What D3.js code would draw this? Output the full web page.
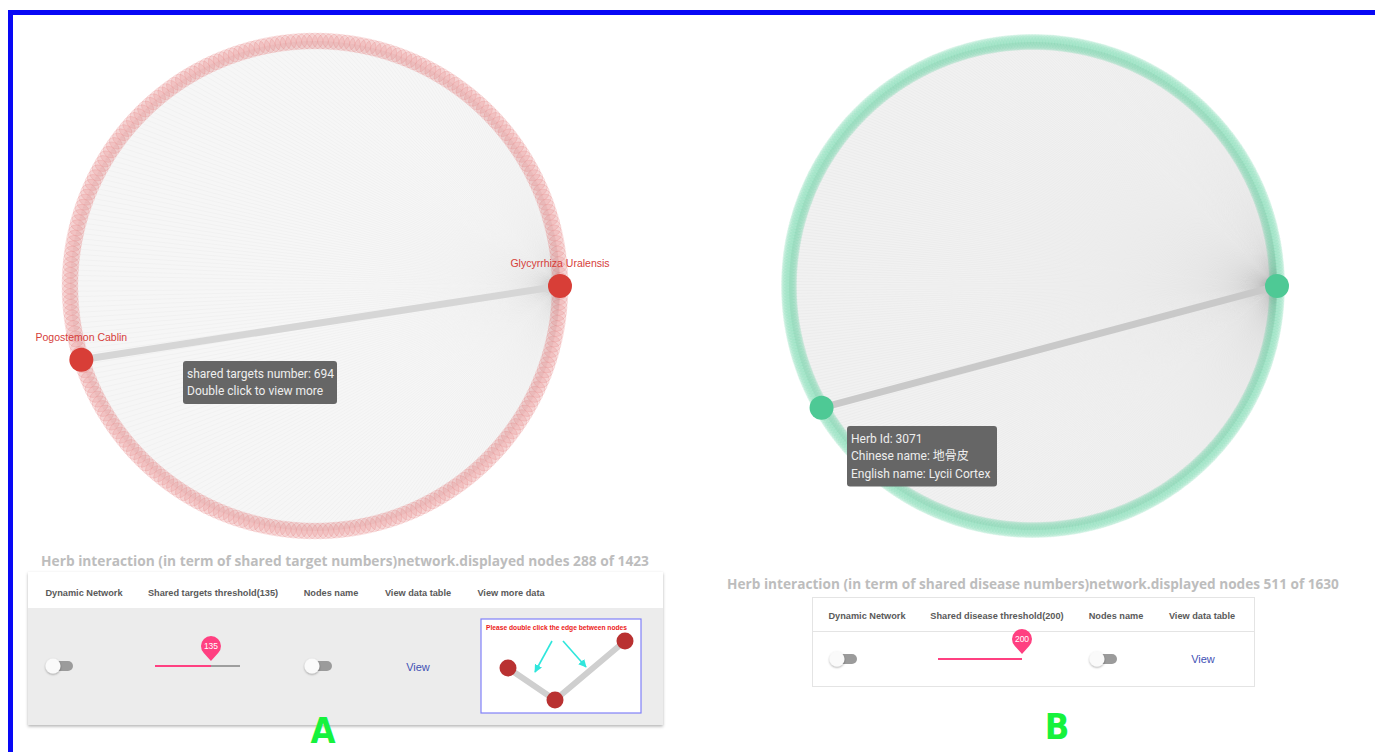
<!DOCTYPE html>
<html>
<head>
<meta charset="utf-8">
<script src="https://cdn.jsdelivr.net/npm/d3@7"></script>
<style>
  body { margin: 0; background: #fff; }
  svg { display: block; font-family: "Liberation Sans", Arial, sans-serif; }
</style>
</head>
<body>
<div class="chart"></div>
<script>
// ---- data ----
var displayedNodes = [288, 511];
var totalNodes = [1423, 1630];
var thresholdValues = [135, 200];
var thresholdMax = [205, 200];
var hubIndex = [0, 0];
var highlightPairA = [0, 130];
var highlightPairB = [0, 213];
var highlightNamesA = ["Glycyrrhiza Uralensis", "Pogostemon Cablin"];
var sharedTargetsNumber = 694;
var tooltipLinesA = ["shared targets number: " + sharedTargetsNumber, "Double click to view more"];
var tooltipLinesB = ["Herb Id: 3071", "Chinese name: 地骨皮", "English name: Lycii Cortex"];
var titleA = "Herb interaction (in term of shared target numbers)network.displayed nodes " + displayedNodes[0] + " of " + totalNodes[0];
var titleB = "Herb interaction (in term of shared disease numbers)network.displayed nodes " + displayedNodes[1] + " of " + totalNodes[1];
var headersA = ["Dynamic Network", "Shared targets threshold(" + thresholdValues[0] + ")", "Nodes name", "View data table", "View more data"];
var headersB = ["Dynamic Network", "Shared disease threshold(" + thresholdValues[1] + ")", "Nodes name", "View data table"];
var panelLabels = ["A", "B"];

var svgWidth = 1375;
var svgHeight = 752;

var svg = d3.select(".chart")
  .append("svg")
  .attr("width", svgWidth)
  .attr("height", svgHeight);

var defs = svg.append("defs");
var shadow = defs.append("filter").attr("id", "shadow")
  .attr("x", "-10%").attr("y", "-10%").attr("width", "120%").attr("height", "130%");
shadow.append("feDropShadow").attr("dx", 0).attr("dy", 1.5).attr("stdDeviation", 1.5)
  .attr("flood-color", "#000").attr("flood-opacity", 0.3);
var knobShadow = defs.append("filter").attr("id", "knobShadow")
  .attr("x", "-50%").attr("y", "-50%").attr("width", "200%").attr("height", "200%");
knobShadow.append("feDropShadow").attr("dx", 0).attr("dy", 1).attr("stdDeviation", 1)
  .attr("flood-color", "#000").attr("flood-opacity", 0.35);
defs.append("marker").attr("id", "cyanArrow")
  .attr("viewBox", "0 0 10 10").attr("refX", 9).attr("refY", 5)
  .attr("markerWidth", 5).attr("markerHeight", 5).attr("orient", "auto")
  .append("path").attr("d", "M0,0 L10,5 L0,10 z").attr("fill", "#2fe6dc");

// blue frame
svg.append("rect")
  .attr("x", 10.5).attr("y", 12.5)
  .attr("width", svgWidth + 20).attr("height", svgHeight + 20)
  .attr("fill", "none").attr("stroke", "#0808f5").attr("stroke-width", 5);

// ---- circular network ----
function drawNetwork(g, cfg) {
  var angle = d3.scaleLinear().domain([0, cfg.n]).range([0, 2 * Math.PI]);
  var nodes = d3.range(cfg.n).map(function(i) {
    return { i: i, x: cfg.cx + cfg.r * Math.cos(angle(i)), y: cfg.cy + cfg.r * Math.sin(angle(i)) };
  });
  var hub = nodes[cfg.hub];

  g.append("circle").attr("cx", cfg.cx).attr("cy", cfg.cy).attr("r", cfg.r)
    .attr("fill", cfg.discColor);

  g.append("g").selectAll("line")
    .data(nodes.filter(function(d) { return d.i !== cfg.hub; }))
    .enter().append("line")
    .attr("x1", function(d) { return d.x; }).attr("y1", function(d) { return d.y; })
    .attr("x2", hub.x).attr("y2", hub.y)
    .attr("stroke", "#8a8a8a").attr("stroke-width", 0.6).attr("stroke-opacity", cfg.lineOpacity);

  g.append("g").selectAll("circle")
    .data(nodes)
    .enter().append("circle")
    .attr("cx", function(d) { return d.x; }).attr("cy", function(d) { return d.y; })
    .attr("r", 8)
    .attr("fill", cfg.ringColor).attr("fill-opacity", cfg.ringOpacity)
    .attr("stroke", cfg.ringColor).attr("stroke-opacity", cfg.ringStroke).attr("stroke-width", 0.8);

  var pair = cfg.pair.map(function(i) { return nodes[i]; });
  g.append("line")
    .attr("x1", pair[0].x).attr("y1", pair[0].y)
    .attr("x2", pair[1].x).attr("y2", pair[1].y)
    .attr("stroke", cfg.edgeColor).attr("stroke-width", 7);

  g.append("g").selectAll("circle")
    .data(pair)
    .enter().append("circle")
    .attr("cx", function(d) { return d.x; }).attr("cy", function(d) { return d.y; })
    .attr("r", 12)
    .attr("fill", cfg.nodeColor);

  if (cfg.names) {
    g.append("g").selectAll("text")
      .data(pair)
      .enter().append("text")
      .attr("x", function(d) { return d.x; }).attr("y", function(d) { return d.y - 19; })
      .attr("text-anchor", "middle")
      .attr("font-size", "10.5px")
      .attr("fill", "#d6403a")
      .text(function(d, i) { return cfg.names[i]; });
  }
  return pair;
}

function drawTooltip(g, x, y, w, lines) {
  var lh = 17.5;
  g.append("rect")
    .attr("x", x).attr("y", y).attr("width", w).attr("height", lines.length * lh + 8)
    .attr("rx", 3).attr("fill", "#666");
  g.selectAll("text.tip")
    .data(lines)
    .enter().append("text")
    .attr("class", "tip")
    .attr("x", x + 4).attr("y", function(d, i) { return y + 16.5 + i * lh; })
    .attr("font-family", "Roboto, 'Noto Sans CJK SC', sans-serif")
    .attr("font-size", "12px")
    .attr("fill", "#eeeeee")
    .text(function(d) { return d; });
}

var netA = svg.append("g");
drawNetwork(netA, {
  n: displayedNodes[0], cx: 315, cy: 286, r: 245, hub: hubIndex[0], pair: highlightPairA,
  ringColor: "#e06a6a", ringOpacity: 0.16, ringStroke: 0.22, lineOpacity: 0.08,
  discColor: "#f6f6f6", edgeColor: "#d6d6d6", nodeColor: "#d83e37", names: highlightNamesA
});
drawTooltip(netA, 183, 361, 154, tooltipLinesA);

var netB = svg.append("g");
drawNetwork(netB, {
  n: displayedNodes[1], cx: 1033, cy: 286, r: 244, hub: hubIndex[1], pair: highlightPairB,
  ringColor: "#4ecb96", ringOpacity: 0.12, ringStroke: 0.0, lineOpacity: 0.07,
  discColor: "#f1f1f1", edgeColor: "#c9c9c9", nodeColor: "#4ec995", names: null
});
drawTooltip(netB, 847, 426, 150, tooltipLinesB);

// ---- titles (font size fitted to the measured width) ----
function drawTitle(text, cx, y, width) {
  var t = svg.append("text")
    .attr("x", cx).attr("y", y)
    .attr("text-anchor", "middle")
    .attr("font-family", "'Open Sans', sans-serif")
    .attr("font-weight", "bold").attr("font-size", "14px")
    .attr("fill", "#bdbdbd")
    .text(text);
  var w = t.node().getComputedTextLength();
  t.attr("font-size", (14 * width / w).toFixed(2) + "px");
}
drawTitle(titleA, 345, 566, 608);
drawTitle(titleB, 1033, 589, 612);

// ---- controls ----
function drawToggle(g, x, y) {
  g.append("rect").attr("x", x - 7).attr("y", y - 5).attr("width", 21).attr("height", 10)
    .attr("rx", 5).attr("fill", "#9b9b9b");
  g.append("circle").attr("cx", x - 6).attr("cy", y).attr("r", 7.5)
    .attr("fill", "#fafafa").attr("filter", "url(#knobShadow)");
}

function drawSlider(g, x0, x1, y, value, max) {
  var s = d3.scaleLinear().domain([0, max]).range([x0, x1]);
  var vx = s(value);
  g.append("line").attr("x1", x0).attr("x2", x1).attr("y1", y).attr("y2", y)
    .attr("stroke", "#9e9e9e").attr("stroke-width", 2);
  g.append("line").attr("x1", x0).attr("x2", vx).attr("y1", y).attr("y2", y)
    .attr("stroke", "#ff4081").attr("stroke-width", 2);
  var cy = y - 20, pr = 10;
  g.append("path")
    .attr("d", "M" + vx + "," + (y - 5) +
      " L" + (vx - pr * 0.72) + "," + (cy + pr * 0.7) +
      " A" + pr + "," + pr + " 0 1 1 " + (vx + pr * 0.72) + "," + (cy + pr * 0.7) + " Z")
    .attr("fill", "#ff4081");
  g.append("text").attr("x", vx).attr("y", cy + 3)
    .attr("text-anchor", "middle").attr("font-size", "8.5px").attr("fill", "#fff")
    .text(value);
}

function drawHeaders(g, headers, xs, y) {
  g.selectAll("text.hdr")
    .data(headers)
    .enter().append("text")
    .attr("class", "hdr")
    .attr("x", function(d, i) { return xs[i]; }).attr("y", y)
    .attr("text-anchor", "middle")
    .attr("font-weight", "bold").attr("font-size", "9.2px")
    .attr("fill", "#5a5a5a")
    .text(function(d) { return d; });
}

// panel A
var panelA = svg.append("g");
panelA.append("rect").attr("x", 28).attr("y", 572).attr("width", 635).attr("height", 153)
  .attr("fill", "#ececec").attr("filter", "url(#shadow)");
panelA.append("rect").attr("x", 28).attr("y", 572).attr("width", 635).attr("height", 36)
  .attr("fill", "#fff");
drawHeaders(panelA, headersA, [84, 213, 331, 418, 511], 596);
drawToggle(panelA, 59, 666);
drawToggle(panelA, 318, 666);
drawSlider(panelA, 155, 240, 666, thresholdValues[0], thresholdMax[0]);
panelA.append("text").attr("x", 418).attr("y", 671).attr("text-anchor", "middle")
  .attr("font-size", "11px").attr("fill", "#3f51b5").text("View");

// hint picture
var hint = panelA.append("g");
hint.append("rect").attr("x", 481).attr("y", 619).attr("width", 160).attr("height", 94)
  .attr("fill", "#fff").attr("stroke", "#8080f8").attr("stroke-width", 1.2);
hint.append("text").attr("x", 486).attr("y", 630)
  .attr("font-weight", "bold").attr("font-size", "7px").attr("fill", "#ec2020")
  .attr("textLength", 141).attr("lengthAdjust", "spacingAndGlyphs")
  .text("Please double click the edge between nodes");
var hintNodes = [[508, 668], [555, 700], [625, 641]];
hint.append("path")
  .attr("d", d3.line()(hintNodes))
  .attr("fill", "none").attr("stroke", "#cfcfcf").attr("stroke-width", 6);
hint.selectAll("circle").data(hintNodes).enter().append("circle")
  .attr("cx", function(d) { return d[0]; }).attr("cy", function(d) { return d[1]; })
  .attr("r", 8.5).attr("fill", "#b93131");
var hintArrows = [[[552, 641], [535, 672]], [[563, 641], [586, 667]]];
hint.selectAll("line.arrow").data(hintArrows).enter().append("line")
  .attr("class", "arrow")
  .attr("x1", function(d) { return d[0][0]; }).attr("y1", function(d) { return d[0][1]; })
  .attr("x2", function(d) { return d[1][0]; }).attr("y2", function(d) { return d[1][1]; })
  .attr("stroke", "#2fe6dc").attr("stroke-width", 1.6).attr("marker-end", "url(#cyanArrow)");

// panel B
var panelB = svg.append("g");
panelB.append("rect").attr("x", 812.5).attr("y", 597.5).attr("width", 442).attr("height", 89)
  .attr("fill", "#fff").attr("stroke", "#e4e4e4");
panelB.append("line").attr("x1", 812.5).attr("x2", 1254.5).attr("y1", 631.5).attr("y2", 631.5)
  .attr("stroke", "#e4e4e4");
drawHeaders(panelB, headersB, [867, 997, 1116, 1202], 619);
drawToggle(panelB, 843, 659);
drawToggle(panelB, 1103, 659);
drawSlider(panelB, 938, 1022, 659, thresholdValues[1], thresholdMax[1]);
panelB.append("text").attr("x", 1203).attr("y", 663).attr("text-anchor", "middle")
  .attr("font-size", "11px").attr("fill", "#3f51b5").text("View");

// panel letters
svg.selectAll("text.letter")
  .data(panelLabels)
  .enter().append("text")
  .attr("class", "letter")
  .attr("x", function(d, i) { return [323, 1057][i]; })
  .attr("y", function(d, i) { return [743, 739][i]; })
  .attr("text-anchor", "middle")
  .attr("font-family", "'DejaVu Sans Condensed', 'DejaVu Sans', sans-serif")
  .attr("font-weight", "bold")
  .attr("font-size", "36px")
  .attr("fill", "#16f23c")
  .text(function(d) { return d; });
</script>
</body>
</html>
